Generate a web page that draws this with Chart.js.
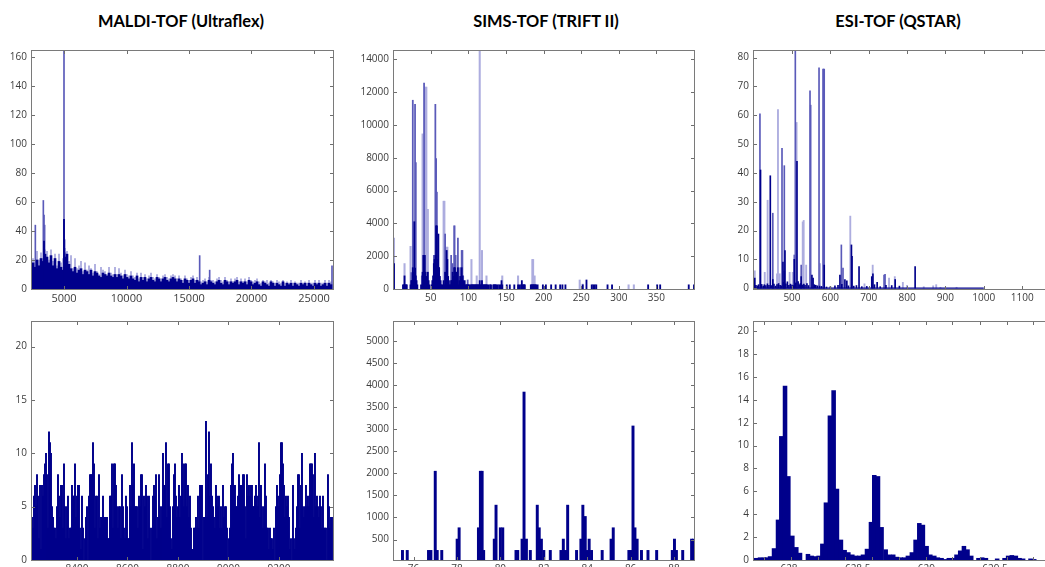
<!DOCTYPE html>
<html>
<head>
<meta charset="utf-8">
<title>TOF spectra</title>
<script src="https://cdn.jsdelivr.net/npm/chart.js@4"></script>
<style>
  html, body { margin: 0; padding: 0; background: #fff; width: 1045px; height: 567px; overflow: hidden; }
  canvas { position: absolute; }
  .head { position: absolute; top: 11px; width: 240px; text-align: center; font: bold 16.4px Lato; color: #000; white-space: nowrap; }
</style>
</head>
<body>
<div class="head" id="head0" style="left:61px"></div>
<div class="head" id="head1" style="left:426px"></div>
<div class="head" id="head2" style="left:778px"></div>
<canvas id="maldiTop" style="left:0;top:0"></canvas>
<canvas id="simsTop" style="left:350px;top:0"></canvas>
<canvas id="esiTop" style="left:700px;top:0"></canvas>
<canvas id="maldiZoom" style="left:0;top:310px"></canvas>
<canvas id="simsZoom" style="left:350px;top:310px"></canvas>
<canvas id="esiZoom" style="left:700px;top:310px"></canvas>
<script>
const titles = ['MALDI-TOF (Ultraflex)', 'SIMS-TOF (TRIFT II)', 'ESI-TOF (QSTAR)'];

const DARK = '#00008b';
const MID = '#5a5ab9';
const LIGHT = '#adaddf';

// ---- MALDI overview: 160 m/z bins from 2520 up
const maldiBinStart = 2520;
const maldiBinStep = 160;
const maldiEnvelope = [18,15,20,16,21,19,24,22,18,23,16,21,14,19,15,13,
  22,24,17,14,12,
  15,11,13,14,10,13,12,10,13,9,12,11,9,8,11,10,9,11,9,8,
  10,8,10,9,7,10,8,7,9,7,6,9,5,8,6,8,5,7,8,6,5,8,7,5,7,8,6,5,7,8,
  7,5,7,6,4,7,6,4,6,7,4,6,5,3,
  4,5,3,6,5,4,3,5,6,4,3,6,5,3,5,
  4,5,6,3,5,4,5,3,6,5,3,4,5,3,2,5,4,3,2,5,4,2,4,3,2,5,2,4,3,4,2,4,3,2,4,3,4,2,4,3,2,4,3,4,2,3,4,2,4,3];
const maldiTips = [21,18,26,20,25,21,27,26,20,27,19,24,16,24,18,21,
  28,26,19,23,14,
  21,14,16,19,12,18,13,16,14,11,17,12,10,15,13,12,10,15,11,10,
  15,10,14,11,9,13,10,9,12,9,8,11,7,11,8,10,7,9,11,8,7,10,8,7,9,10,8,7,9,10,
  9,7,9,7,6,9,7,6,8,9,6,8,6,5,
  6,7,5,8,6,6,5,7,8,6,5,8,6,5,7,
  5,7,8,5,7,5,7,5,8,6,5,6,7,5,4,6,5,6,4,6,5,4,6,5,4,6,4,5,4,6,4,5,4,4,6,4,5,4,6,4,4,6,4,6,4,4,6,4,6,5];
const maldiSpikeMz = [2707, 3347, 3400, 3450, 5000, 5050, 5110, 15853, 16653, 26440];
const maldiSpikeInt = [44, 61, 51, 44, 164, 34, 25, 23, 13, 16];
const maldiDarkSpikeMz = [5000, 3400];
const maldiDarkSpikeInt = [48, 33];
const maldiXTicks = [5000, 10000, 15000, 20000, 25000];
const maldiYTicks = [0, 20, 40, 60, 80, 100, 120, 140, 160];

// ---- MALDI zoom: 8222-9414
const maldiZoomStart = 8222;
const maldiZoomStep = 3.96;
const maldiZoomInt = [4,3,6,7,5,8,6,2,7,1, 7,6,8,9,10,8,3,12,11,10, 5,4,3,3,2,5,8,6,4,7,
  7,3,9,5,2,5,6,2,3,3, 7,6,6,9,4,6,7,7,3,1, 6,3,0,2,4,5,0,6,8,8,
  8,11,9,3,6,6,2,8,3,4, 4,6,4,4,4,4,2,2,6,6, 9,3,9,9,7,5,3,5,5,2,
  8,5,3,2,6,5,2,2,7,5, 11,7,9,5,5,5,3,6,5,8, 8,1,6,5,7,6,2,6,3,0,
  3,6,7,6,8,2,4,8,5,3, 5,10,7,7,11,4,9,9,5,2, 1,5,8,9,6,4,5,7,4,6,
  10,9,5,9,9,5,7,4,6,3, 1,1,3,3,4,3,6,3,7,7, 7,0,4,4,13,4,8,12,6,9,
  6,5,4,3,7,6,5,6,3,5, 3,7,4,5,5,3,0,2,3,7, 9,10,7,7,5,5,6,8,7,7,
  7,8,8,5,2,8,6,7,6,7, 7,5,5,6,7,6,5,11,4,7, 5,3,5,9,6,3,3,1,3,2,
  2,1,3,0,5,7,6,5,8,11, 11,9,7,4,6,5,6,4,1,2, 0,7,2,1,3,5,8,8,3,7,
  10,5,4,5,7,5,6,5,9,9, 9,8,4,10,5,6,5,4,6,5, 3,6,3,3,3,0,8,5,3,4,4];
const maldiZoomXTicks = [8400, 8600, 8800, 9000, 9200];
const maldiZoomYTicks = [0, 5, 10, 15, 20];

// ---- SIMS overview
const simsLightMz = [1,15,23,39,43,44,45,46,67,68,71,72,82,104,111,115,118,124,145,166,185,186,188,248,252,313,320];
const simsLightInt = [3100,1550,2600,9450,12300,12300,4850,4850,5350,5350,2550,2550,3850,1800,800,14500,2350,800,800,800,1800,1800,800,550,300,256,256];
const simsMidMz = [24,26,29,30,38,41,54,56,57,58,61,69,77,79,81,83,86,89,91,92,93,99];
const simsMidInt = [1000,11500,11250,7700,800,12550,2050,11250,7950,5900,1300,3350,2050,1550,3850,2050,3100,1300,2350,2350,800,550];
const simsDarkMz = [1,13,14,15,16,17,18,23,24,25,26,27,28,29,30,31,32,37,39,40,41,42,43,44,45,46,47,48,51,52,53,54,55,56,57,58,59,60,61,62,63,64,65,
  67,68,69,70,71,72,73,74,75,76,77,78,79,80,81,82,83,84,85,86,87,88,89,90,91,92,93,94,95,96,97,98,99,100,101,103,104,105,
  106,107,108,109,110,111,112,113,114,115,116,117,118,119,120,121,122,123,124,125,127,129,130,133,134,135,136,137,139,141,143,144,145,
  151,155,161,166,168,170,171,172,173,174,175,183,184,185,186,187,188,189,190,192,199,203,210,216,222,225,229,252,257,264,266,268,270,285,291,339,351,355,393,400];
const simsDarkInt = [1550,256,256,800,256,256,256,256,512,512,1300,1024,4100,1280,800,512,256,256,1024,2050,2050,2050,1024,768,512,1024,512,256,256,512,800,1550,1800,2050,3850,3850,1800,3350,1300,768,512,256,256,
  512,256,1024,768,2350,1800,768,512,256,256,512,512,1024,768,1300,1300,1024,1024,768,1300,256,512,768,512,1300,800,512,256,512,256,256,256,256,256,256,256,256,256,
  256,256,256,256,256,256,256,256,256,512,256,256,512,256,256,256,256,256,256,256,256,256,256,256,256,256,256,256,256,256,256,512,256,
  256,256,256,256,256,256,512,256,256,256,256,256,256,256,256,256,256,256,256,256,256,256,256,256,256,256,256,256,550,256,256,256,256,256,256,256,256,256,256,256];
const simsXTicks = [50, 100, 150, 200, 250, 300, 350];
const simsYTicks = [0, 2000, 4000, 6000, 8000, 10000, 12000, 14000];

// ---- SIMS zoom
const simsZoomMz = [75.49,75.71,76.69,76.8,77,77.09,77.3,78.01,78.1,78.99,79.08,79.16,79.23,79.72,79.8,80,80.11,80.72,80.8,81,81.09,81.2,81.38,
  81.7,81.79,81.89,82,82.3,82.79,82.9,83,83.1,83.51,83.71,83.8,83.91,84,84.09,84.2,84.69,85.1,85.2,85.92,86.02,86.11,86.2,86.3,86.5,86.8,87.2,87.92,88.02,88.11,88.4,88.81,88.9];
const simsZoomInt = [256,256,256,256,2048,256,256,512,768,768,2048,2048,256,512,1280,768,768,256,256,512,3840,512,256,
  1280,768,512,256,256,256,512,256,1280,256,512,1280,1024,256,512,256,256,512,768,256,256,3072,768,512,256,256,256,256,512,256,256,512,512];
const simsZoomXTicks = [76, 78, 80, 82, 84, 86, 88];
const simsZoomYTicks = [500, 1000, 1500, 2000, 2500, 3000, 3500, 4000, 4500, 5000];

// ---- ESI overview
const esiLightMz = [403,429,436.5,461,463.5,468,494,502,512,528,530.5,537,573,652,689,710.4,753,768,789,800,843.5,868,876,887,929];
const esiLightInt = [6,5.5,30.5,5,62,5,5.5,5.5,57.5,23,23.5,8,8.5,25,1.5,8,3.5,4,2,1,0.5,0.8,1.2,0.3,0.3];
const esiMidMz = [416.5,450,474,480,506,508.7,524,547,548.7,570.5,581,582.6,584,628.7,633,740,742.6];
const esiMidInt = [60.5,26,48.5,42.5,11.5,82.3,8,68.5,63.5,76.5,76,76,76,15,7,4.5,4.8];
const esiDarkMz = [403,418,443.5,450,476.5,480,481.7,506,513,524,552,555,584,625,638,643,655,656.5,674.8,708,711,722,769,821,
  406,410,413,421,425,428,432,436,440,447,453,457,461,465,469,472,478,484,488,492,496,500,504,510,516,519,522,527,531,534,539,543,558,562,566,572,577,590,600,612,620,630,647,661,668,682,695,715,730,745,760,780];
const esiDarkInt = [3.5,41,39,3,9,6,13,10,44,4,4.5,3.5,8,4.5,3,2.5,15,11,7.5,4,5,2,3,7.5,
  1,0.8,1.2,1.3,0.7,1.2,0.9,1.5,1,0.9,1.4,0.7,1.2,1.6,1,0.8,2,1.5,2.2,1,1.4,1.1,0.9,1.8,2.3,1.2,1.6,1.1,1.4,1,1.6,0.9,1.2,1,0.8,0.7,0.6,0.4,0.5,0.8,1,1.3,0.8,0.7,0.9,0.5,0.6,1.2,0.5,1,0.9,0.7];
const esiBaseMz = [401, 1000];
const esiBaseInt = [0, 0];
const esiXTicks = [500, 600, 700, 800, 900, 1000, 1100];
const esiYTicks = [0, 10, 20, 30, 40, 50, 60, 70, 80];

// ---- ESI zoom
const esiZoomMz = [627.76,627.789,627.818,627.837,627.862,627.891,627.92,627.944,627.971,627.995,628.024,628.053,628.08,628.138,628.165,628.192,628.216,628.243,628.269,628.298,628.325,628.349,628.378,628.405,628.432,628.461,628.488,628.512,628.539,628.568,628.597,628.621,628.648,628.674,628.704,628.73,628.759,628.786,628.813,628.839,628.866,628.895,628.922,628.949,628.975,629.002,629.029,629.058,629.084,629.111,629.138,629.164,629.191,629.22,629.247,629.274,629.3,629.327,629.38,629.407,629.434,629.516,629.57,629.596,629.623,629.652,629.679,629.705,629.759,629.786];
const esiZoomInt = [0.15,0.2,0.2,0.2,0.3,1,3.5,10.8,15.2,7.3,2.1,1.1,0.6,0.5,0.35,0.3,0.35,1.4,5,12.6,14.8,6.2,1.75,0.85,0.65,0.45,0.35,0.35,0.45,0.95,3.3,7.4,7.3,2.85,0.9,0.45,0.45,0.25,0.2,0.2,0.35,0.65,1.75,3.2,3.05,1.2,0.45,0.35,0.2,0.15,0.05,0.15,0.15,0.45,0.8,1.2,0.9,0.35,0.15,0.2,0.15,0.1,0.15,0.35,0.4,0.35,0.15,0.1,0.1,0.05];
const esiZoomXTicks = [628, 628.5, 629, 629.5];
const esiZoomYTicks = [0, 2, 4, 6, 8, 10, 12, 14, 16, 18, 20];
const esiZoomFrameTicks = [627.818,628.015,628.21,628.41,628.605,628.8,628.997,629.19,629.39,629.587,629.78];

titles.forEach((t, i) => { document.getElementById('head' + i).textContent = t; });

function binMz(start, step, values) {
  return values.map((v, i) => start + i * step);
}

function bars(mz, values, color, thick) {
  return {
    data: mz.map((m, i) => ({ x: m, y: values[i] })),
    backgroundColor: color,
    barThickness: thick,
    grouped: false
  };
}

// ticks point inward on all four sides of the box
const frameTicks = {
  id: 'frameTicks',
  afterDraw(chart, args, opts) {
    const ctx = chart.ctx;
    const a = chart.chartArea;
    const xs = opts.xValues ? opts.xValues : chart.scales.x.ticks.map(t => t.value);
    ctx.save();
    ctx.strokeStyle = '#6e6e6e';
    ctx.lineWidth = 1;
    ctx.beginPath();
    xs.forEach(v => {
      const px = Math.round(chart.scales.x.getPixelForValue(v)) + 0.5;
      ctx.moveTo(px, a.top);
      ctx.lineTo(px, a.top + 3);
      ctx.moveTo(px, a.bottom);
      ctx.lineTo(px, a.bottom - 3);
    });
    chart.scales.y.ticks.forEach(t => {
      const py = Math.round(chart.scales.y.getPixelForValue(t.value)) + 0.5;
      ctx.moveTo(a.left, py);
      ctx.lineTo(a.left + 3, py);
      ctx.moveTo(a.right, py);
      ctx.lineTo(a.right - 3, py);
    });
    ctx.stroke();
    ctx.strokeStyle = '#7a7a7a';
    ctx.strokeRect(a.left - 0.5, a.top - 0.5, a.right - a.left + 1, a.bottom - a.top + 1);
    ctx.restore();
  }
};

function spectrum(id, cfg) {
  const canvas = document.getElementById(id);
  canvas.width = cfg.width;
  canvas.height = cfg.height;
  canvas.style.width = cfg.width + 'px';
  canvas.style.height = cfg.height + 'px';
  const tickFont = { family: '"Open Sans"', size: 10 };
  return new Chart(canvas.getContext('2d'), {
    type: 'bar',
    data: { datasets: cfg.datasets },
    plugins: [frameTicks],
    options: {
      responsive: false,
      animation: false,
      events: [],
      layout: { padding: { top: cfg.top, right: cfg.right, left: 0, bottom: 0 } },
      plugins: {
        legend: { display: false },
        tooltip: { enabled: false },
        frameTicks: { xValues: cfg.frameX }
      },
      scales: {
        x: {
          type: 'linear',
          offset: false,
          min: cfg.xMin,
          max: cfg.xMax,
          grid: { display: false, drawTicks: false },
          border: { display: false },
          afterFit(s) { s.height = cfg.xHeight; },
          afterBuildTicks(s) { s.ticks = cfg.xTicks.map(v => ({ value: v })); },
          ticks: {
            autoSkip: false,
            maxRotation: 0,
            padding: 3,
            color: '#3c3c3c',
            font: { family: '"Open Sans"', size: cfg.xFontSize || 10 },
            callback: v => String(v)
          }
        },
        y: {
          min: cfg.yMin,
          max: cfg.yMax,
          grid: { display: false, drawTicks: false },
          border: { display: false },
          afterFit(s) { s.width = cfg.yWidth; },
          afterBuildTicks(s) { s.ticks = cfg.yTicks.map(v => ({ value: v })); },
          ticks: {
            autoSkip: false,
            padding: 5,
            color: '#3c3c3c',
            font: tickFont,
            callback: v => String(v)
          }
        }
      }
    }
  });
}

spectrum('maldiTop', {
  width: 340, height: 310, top: 51, right: 7, yWidth: 32, xHeight: 21, xFontSize: 11,
  xMin: 2440, xMax: 26520, xTicks: maldiXTicks, yMin: 0, yMax: 164, yTicks: maldiYTicks,
  datasets: [
    bars(maldiDarkSpikeMz, maldiDarkSpikeInt, DARK, 1.2),
    bars(binMz(maldiBinStart, maldiBinStep, maldiEnvelope), maldiEnvelope, DARK, 2),
    bars(maldiSpikeMz, maldiSpikeInt, MID, 1),
    bars(binMz(maldiBinStart, maldiBinStep, maldiTips), maldiTips, LIGHT, 1.2)
  ]
});

spectrum('simsTop', {
  width: 350, height: 310, top: 51, right: 6, yWidth: 44, xHeight: 21,
  xMin: 1, xMax: 400, xTicks: simsXTicks, yMin: 0, yMax: 14500, yTicks: simsYTicks,
  datasets: [
    bars(simsDarkMz, simsDarkInt, DARK, 1.2),
    bars(simsMidMz, simsMidInt, MID, 1.1),
    bars(simsLightMz, simsLightInt, LIGHT, 1.4)
  ]
});

spectrum('esiTop', {
  width: 354, height: 310, top: 51, right: 0, yWidth: 54, xHeight: 21,
  xMin: 401, xMax: 1183, xTicks: esiXTicks, yMin: -0.3, yMax: 82.3, yTicks: esiYTicks,
  datasets: [
    { type: 'line', data: esiBaseMz.map((m, i) => ({ x: m, y: esiBaseInt[i] })), borderColor: DARK, borderWidth: 1.2, pointRadius: 0 },
    bars(esiDarkMz, esiDarkInt, DARK, 1),
    bars(esiMidMz, esiMidInt, MID, 1),
    bars(esiLightMz, esiLightInt, LIGHT, 1.2)
  ]
});

spectrum('maldiZoom', {
  width: 340, height: 280, top: 12, right: 7, yWidth: 32, xHeight: 30,
  xMin: 8222, xMax: 9414, xTicks: maldiZoomXTicks, yMin: 0, yMax: 22.3, yTicks: maldiZoomYTicks,
  datasets: [ bars(binMz(maldiZoomStart, maldiZoomStep, maldiZoomInt), maldiZoomInt, DARK, 1.3) ]
});

spectrum('simsZoom', {
  width: 350, height: 280, top: 12, right: 6, yWidth: 44, xHeight: 30,
  xMin: 75.1, xMax: 88.92, xTicks: simsZoomXTicks, yMin: 38, yMax: 5425, yTicks: simsZoomYTicks,
  datasets: [ bars(simsZoomMz, simsZoomInt, DARK, 2.3) ]
});

spectrum('esiZoom', {
  width: 354, height: 280, top: 12, right: 0, yWidth: 54, xHeight: 30,
  xMin: 627.745, xMax: 629.93, xTicks: esiZoomXTicks, yMin: 0, yMax: 20.8, yTicks: esiZoomYTicks,
  frameX: esiZoomFrameTicks,
  datasets: [ bars(esiZoomMz, esiZoomInt, DARK, 3.9) ]
});
</script>
</body>
</html>
